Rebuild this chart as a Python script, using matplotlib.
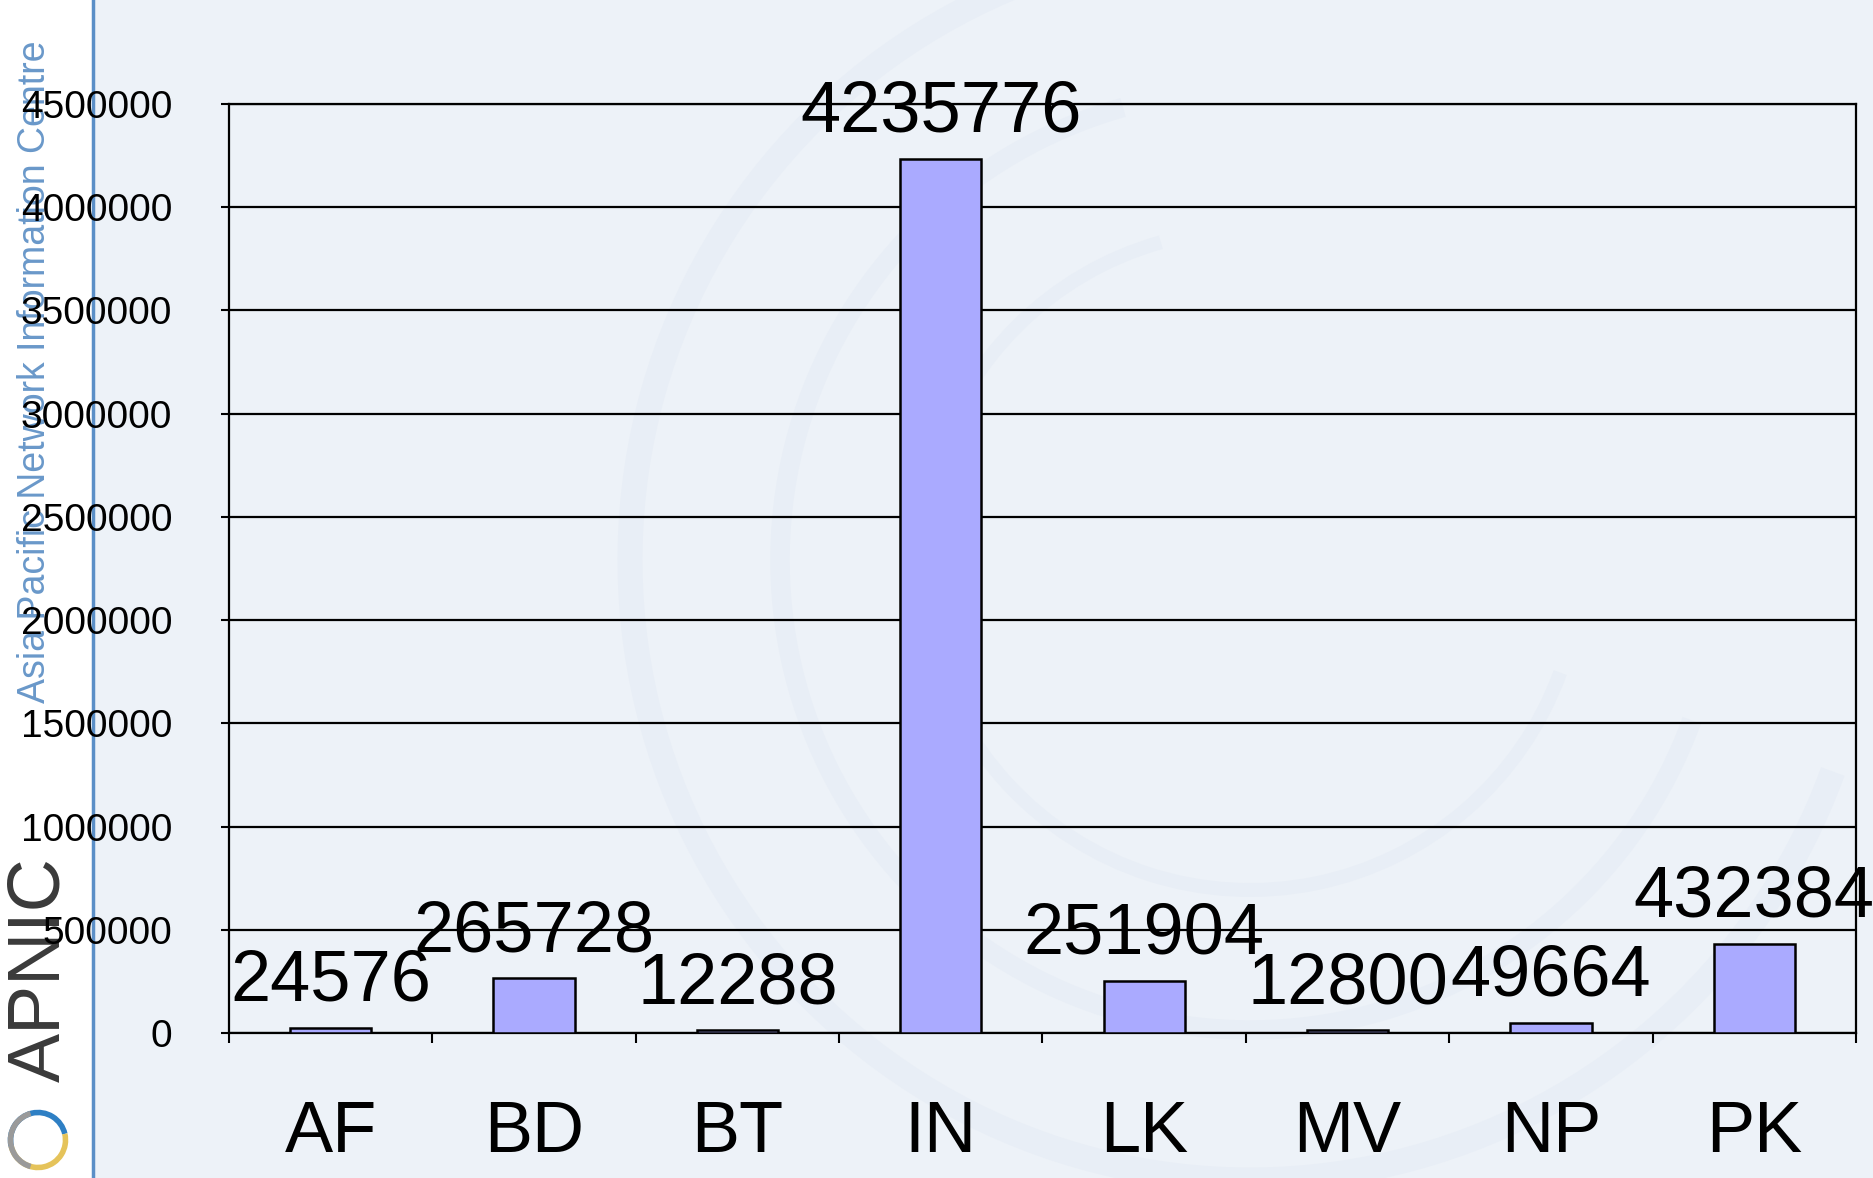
import matplotlib
matplotlib.use("Agg")
import matplotlib.pyplot as plt
from matplotlib.patches import Rectangle, Arc
import numpy as np

categories = ["AF", "BD", "BT", "IN", "LK", "MV", "NP", "PK"]
values = [24576, 265728, 12288, 4235776, 251904, 12800, 49664, 432384]
yticks = [0, 500000, 1000000, 1500000, 2000000, 2500000, 3000000, 3500000, 4000000, 4500000]

plt.rcParams['font.family'] = ['Liberation Sans', 'DejaVu Sans']

W, H = 1874, 1178
fig = plt.figure(figsize=(W / 100, H / 100), dpi=100)
fig.patch.set_facecolor('#EDF2F8')

# left white strip + blue line
fig.patches.append(Rectangle((0, 0), 92 / W, 1, transform=fig.transFigure,
                             facecolor='white', edgecolor='none', zorder=-3))
fig.add_artist(plt.Line2D([93 / W, 93 / W], [0, 1], transform=fig.transFigure,
                          color='#5B8FC7', linewidth=2.5, zorder=-2))

# faint watermark arcs
for (cx, cy, r, lw) in [(1250, 560, 620, 18), (1250, 560, 470, 14), (1250, 560, 330, 10)]:
    fig.add_artist(Arc((cx / W, 1 - cy / H), 2 * r / W, 2 * r / H, theta1=100, theta2=330,
                       transform=fig.transFigure, color='#E8EEF6', linewidth=lw, zorder=-2.5))

fig.text(35 / W, 1 - 703 / H, "Asia Pacific Network Information Centre", rotation=90,
         ha='center', va='bottom', fontsize=27, color='#4F86C0', alpha=0.85, zorder=-2)
fig.text(40 / W, 1 - 1082 / H, "APNIC", rotation=90, ha='center', va='bottom',
         fontsize=53, color='#3A3A3A', zorder=-2)

# simple logo swirl
for (th1, th2, col) in [(20, 200, '#2E7FC4'), (200, 380, '#E5C35A'), (100, 260, '#9A9A9A')]:
    fig.add_artist(Arc((38 / W, 1 - 1140 / H), 55 / W, 55 / H, theta1=th1, theta2=th2,
                       transform=fig.transFigure, color=col, linewidth=4, zorder=-2))

ax = fig.add_axes([229 / W, 1 - 1033 / H, (1856 - 229) / W, (1033 - 104) / H])
ax.set_facecolor('none')
ax.set_zorder(1)

x = np.arange(len(categories))
bars = ax.bar(x, values, width=0.4, color='#AAAAFF', edgecolor='black', linewidth=1.8, zorder=3)

ax.set_xlim(-0.5, len(categories) - 0.5)
ax.set_ylim(0, 4500000)
ax.set_yticks(yticks)
ax.set_yticklabels([str(v) for v in yticks], fontsize=28)
ax.yaxis.grid(True, color='black', linewidth=1.6, zorder=1)
ax.set_axisbelow(True)

ax.set_xticks(x)
ax.set_xticklabels(categories, fontsize=52)
ax.set_xticks(np.arange(-0.5, len(categories)), minor=True)
ax.tick_params(axis='x', which='major', length=0, pad=48)
ax.tick_params(axis='x', which='minor', length=7, width=1.5, direction='out')
ax.tick_params(axis='y', length=6, width=1.5, direction='out', pad=35)

for s in ax.spines.values():
    s.set_color('black')
    s.set_linewidth(1.6)

for xi, v in zip(x, values):
    ax.annotate(str(v), (xi, v), xytext=(0, 19.5), textcoords='offset points',
                ha='center', va='baseline', fontsize=52, clip_on=False, zorder=5)

fig.savefig("out.png", dpi=100, facecolor=fig.get_facecolor())
